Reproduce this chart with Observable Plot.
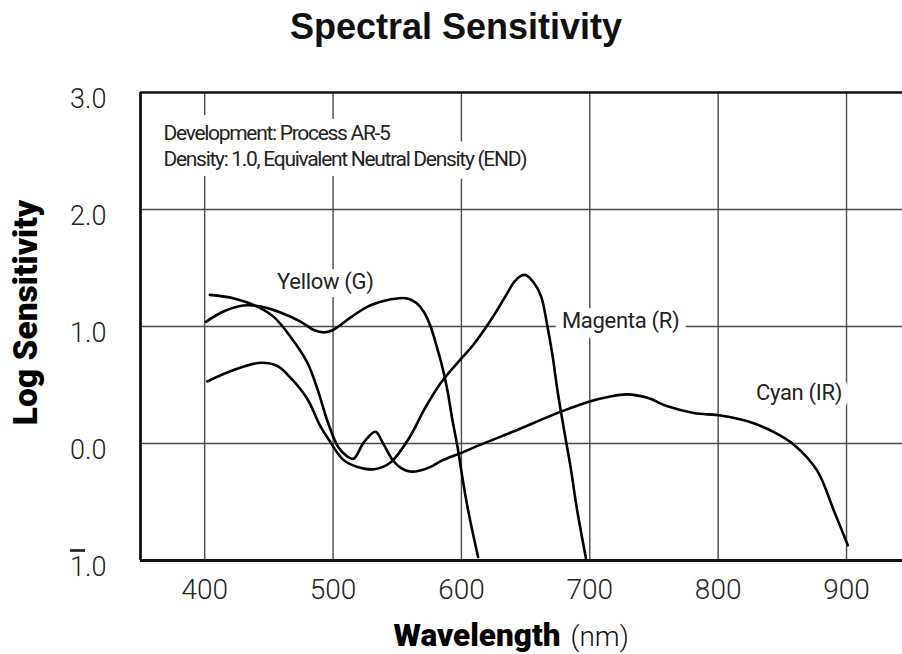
<!DOCTYPE html>
<html><head><meta charset="utf-8">
<script src="https://cdn.jsdelivr.net/npm/d3@7"></script>
<script src="https://cdn.jsdelivr.net/npm/@observablehq/plot@0.6"></script>
<style>
body{margin:0;background:#fff;}
#title{width:902px;height:60px;box-sizing:border-box;padding-top:9px;padding-left:10px;text-align:center;font:bold 36px/36px "Liberation Sans",Arial,sans-serif;color:#111;}
#chart svg{display:block;}
</style></head><body>
<div id="title">Spectral Sensitivity</div>
<div id="chart"></div>
<script>
// ---- axes ----
const xDomain = [350, 943.6];
const yDomain = [-1, 3];
const xTicks = [400, 500, 600, 700, 800, 900];
const yTicks = [-1, 0, 1, 2, 3];
const yTickLabels = ["1.0", "0.0", "1.0", "2.0", "3.0"];   // -1 is written in bar notation
const yGrid = [0, 1, 2];

// ---- series ----
const seriesNames = ["Yellow (G)", "Magenta (R)", "Cyan (IR)"];

const yellowNm  = [401,415,430,444,459,475,485,493,500,514,527,540,550,558,565,571,576,581,585,589,593,597,600,604,608,613];
const yellowLog = [1.04,1.13,1.18,1.17,1.12,1.04,0.97,0.95,0.97,1.08,1.17,1.22,1.24,1.24,1.20,1.12,1.00,0.82,0.66,0.46,0.20,-0.03,-0.24,-0.50,-0.72,-0.97];

const magentaNm  = [402,423,444,457,467,480,490,498,508,519,532,545,560,571,584,601,609,625,636,641,646,650,656,662,667,671,675,681,685,690,697];
const magentaLog = [0.53,0.63,0.69,0.66,0.56,0.38,0.15,0.01,-0.14,-0.20,-0.22,-0.16,0.06,0.29,0.52,0.74,0.84,1.09,1.29,1.38,1.43,1.44,1.38,1.26,1.00,0.75,0.44,0.05,-0.20,-0.56,-0.98];

const cyanNm  = [404,423,441,454,467,480,488,496,504,511,516,524,533,539,547,553,560,568,576,584,600,615,640,677,700,715,729,745,760,781,802,823,843,859,877,890,901];
const cyanLog = [1.27,1.24,1.17,1.08,0.91,0.69,0.46,0.18,-0.03,-0.11,-0.13,0.01,0.10,0.00,-0.15,-0.21,-0.24,-0.23,-0.20,-0.15,-0.08,-0.01,0.10,0.27,0.36,0.40,0.42,0.39,0.32,0.26,0.24,0.19,0.10,-0.01,-0.23,-0.57,-0.87];

// ---- curve labels ----
const labelNm  = [494, 724, 863];
const labelLog = [1.32, 0.99, 0.37];

// ---- texts ----
const annotationLines = ["Development: Process AR-5", "Density: 1.0, Equivalent Neutral Density (END)"];
const yTitle = "Log Sensitivity";
const xTitleBold = "Wavelength";
const xTitleUnit = "(nm)";

// ---- build tables ----
const seriesData = [[yellowNm, yellowLog], [magentaNm, magentaLog], [cyanNm, cyanLog]];
const rows = seriesData.flatMap(([nm, lg], s) => nm.map((x, i) => ({series: seriesNames[s], nm: x, log: lg[i]})));
const labelRows = seriesNames.map((name, i) => ({name, nm: labelNm[i], log: labelLog[i]}));

const gridStyle = {stroke: "#4a4a4a", strokeOpacity: 1, strokeWidth: 1.4};

const plot = Plot.plot({
  width: 902,
  height: 594,
  marginTop: 32,
  marginBottom: 94,
  marginLeft: 140,
  marginRight: 0,
  x: {domain: xDomain},
  y: {domain: yDomain},
  style: {fontFamily: "Roboto, 'Liberation Sans', sans-serif", color: "#222", background: "#fff"},
  marks: [
    Plot.gridX(xTicks, gridStyle),
    Plot.gridY(yGrid, gridStyle),
    Plot.ruleY([yDomain[1]], {stroke: "#111", strokeWidth: 2.6}),
    Plot.ruleY([yDomain[0]], {stroke: "#111", strokeWidth: 3.2}),
    Plot.ruleX([xDomain[0]], {stroke: "#111", strokeWidth: 2.8}),
    Plot.axisX({ticks: xTicks, tickSize: 0, tickPadding: 19, fontSize: 28, fontWeight: 300, label: null}),
    Plot.axisY({ticks: yTicks, tickFormat: d => yTickLabels[yTicks.indexOf(d)], tickSize: 0, tickPadding: 34, dy: 7, fontSize: 27, fontWeight: 300, label: null}),
    Plot.text([annotationLines.join("\n")], {
      frameAnchor: "top-left", dx: 23, dy: 29, lineAnchor: "top", textAnchor: "start",
      fontSize: 21, lineHeight: 1.24, fill: "#222", stroke: "white", strokeWidth: 20,
      strokeLinejoin: "round", paintOrder: "stroke", ariaDescription: "annotation"
    }),
    Plot.text(labelRows, {
      x: "nm", y: "log", text: "name", fontSize: 22, lineAnchor: "bottom", textAnchor: "middle",
      fill: "#222", stroke: "white", strokeWidth: 16, strokeLinejoin: "round", paintOrder: "stroke",
      ariaDescription: "curve labels"
    }),
    Plot.line(rows, {x: "nm", y: "log", z: "series", curve: "catmull-rom", stroke: "#000", strokeWidth: 2.6}),
    Plot.text([yTitle], {frameAnchor: "left", dx: -114, dy: -14, rotate: -90, textAnchor: "middle", lineAnchor: "middle", fontSize: 33.5, fontWeight: 900, fill: "#000"}),
    Plot.text([xTitleBold], {frameAnchor: "bottom", dx: 39, dy: 85, textAnchor: "end", lineAnchor: "bottom", fontSize: 31.5, fontWeight: 900, fill: "#000"}),
    Plot.text([xTitleUnit], {frameAnchor: "bottom", dx: 49, dy: 85, textAnchor: "start", lineAnchor: "bottom", fontSize: 28, fontWeight: 300, fill: "#111"})
  ]
});

document.getElementById("chart").appendChild(plot);

// condensed look for annotation text
d3.select(plot).selectAll('g[aria-description="annotation"] text').style("letter-spacing", "-1.3px");
d3.select(plot).selectAll('g[aria-description="curve labels"] text').style("letter-spacing", "-0.3px");

// bar notation for the negative characteristic (1̄.0)
d3.select(plot).selectAll('g[aria-label="y-axis tick label"] text').each(function(d, i) {
  if (yTicks[i] < 0) {
    const t = this.textContent;
    const sel = d3.select(this);
    sel.text(null);
    sel.append("tspan").style("text-decoration", "overline").text(t.slice(0, 1));
    sel.append("tspan").text(t.slice(1));
  }
});
</script>
</body></html>
